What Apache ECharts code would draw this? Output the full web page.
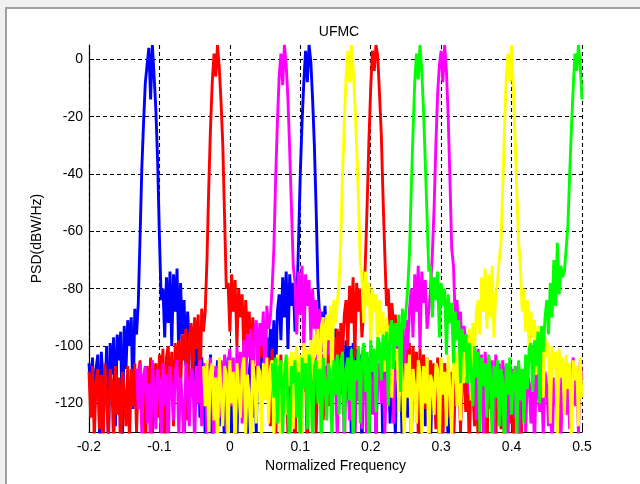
<!DOCTYPE html>
<html><head><meta charset="utf-8">
<script src="https://cdn.jsdelivr.net/npm/echarts@6/dist/echarts.min.js"></script>
<style>
html,body{margin:0;padding:0;background:#f0f0f0;width:640px;height:484px;overflow:hidden;}
#frame{position:absolute;left:5px;top:7px;width:635px;height:477px;background:#fff;border-top:2px solid #a0a0a0;border-left:2px solid #a0a0a0;box-sizing:border-box;}
#chart{position:absolute;left:0;top:0;width:640px;height:484px;}
</style></head><body>
<div id="frame"></div><div id="chart"></div>
<script>
// frequency grid of the PSD estimate
const freqStart = -0.2, freqStep = 0.0025;
const xTicks = [-0.2, -0.1, 0, 0.1, 0.2, 0.3, 0.4, 0.5];
const yTicks = [0, -20, -40, -60, -80, -100, -120];

// PSD values (dBW/Hz), each series begins at grid index *Start
const blueStart = 0;
const blue = [-106,-118,-104,-125,-108,-103,-131,-102,-112,-120,-100,-138,-99,-110,-97,-128,-96,-105,-95,-133,-93,-108,-91,-100,-90,-122,-87,-96,
-85,-62,-38,-22,-8,-2,4,-14,5,-6,-18,-36,-62,-84,
-80,-97,-76,-92,-74,-100,-75,-88,-73,-104,-78,
-96,-84,-107,-88,-99,-93,-118,-97,-110,
-101,-125,-104,-112,-131,-106,-119,-103,-136,-109,-115,-105,-128,-110,-107,-139,-113,-104,-121,-130,-108,-117,-134,-106,-112,-125,-104,-118,-140,-109,-103,-121,-107,-130,-102,-115,-99,
-100,-116,-97,-109,-94,-105,-91,-112,-88,
-82,-98,-76,-90,-74,-101,-75,-86,-78,-95,
-86,-64,-40,-22,-8,3,-8,5,-1,-14,-30,-52,-78,-90,
-88,-102,-86,-96,-90,-110,-92,-99,-94,-121,-95,-104,-97,-126,-98,-108,-100,-133,-99,-112,-101,-119,-103,-137,-102,-110,-104,-128,-103,-115,-105,-132,-106,-113,-104,-140,-107,-118,-105,-127,-108,-112,-131,-106,-120,-109,-138,-107,-116,-125,-108,-134,-110,-106,-122,-109,-139,-111,-107,-128,-109,-117,-136,-108,-113,-126,-110,-141,-108,-119,-124,-109,-135,-110,-115,-130,-112];

const redStart = 0;
const red = [-109,-125,-107,-133,-112,-108,-129,-110,-138,-106,-118,-131,-108,-113,-136,-107,-124,-111,-140,-109,-116,-128,-107,-134,
-108,-121,-106,-130,-110,-105,-127,-112,-139,-107,-119,-104,-132,-109,-106,
-125,-103,-112,-101,-135,-104,-100,-118,-102,-128,-99,-110,
-98,-115,-96,-105,-94,-126,-97,-92,-110,-90,-101,-89,-120,-87,-95,
-88,-70,-45,-24,-8,2,-6,5,-3,-15,-30,-55,-80,
-78,-95,-75,-88,-77,-100,-80,-90,-82,-104,-84,-96,
-88,-106,-90,-99,-93,-112,-95,-104,-98,
-102,-118,-104,-128,-101,-110,-135,-106,-115,-103,-124,-108,-105,-132,-111,-104,-119,-138,-107,-112,-127,-105,-116,-109,-140,-106,-113,-122,-104,-131,-108,-117,-103,-126,-110,-101,-121,
-99,-114,-97,-106,-94,-120,-92,-103,-89,
-84,-100,-79,-92,-76,-104,-78,-88,-80,-97,
-88,-70,-50,-28,-10,3,-4,5,1,-12,-26,-48,-68,-86,
-80,-97,-85,-93,-89,-108,-92,-100,-95,-118,-97,-106,-99,-125,-100,-110,-102,-131,-101,-114,-103,-122,-104,-136,-105,-112,-106,-129,-104,-117,-107,-134,-106,-113,-108,-125,-109,-140,-107,-119,-108,-130,-111,-110,-123,-109,-137,-108,-116,-128,-110,-133,-109,-112,-126,-111,-139,-108,-118,-124,-110,-135,-109,-115,-129,-112,-141,-110,-117,-127,-111,-136,-109,-120,-131,-112,-138];

const magentaStart = 27;
const magenta = [-108,-122,-106,-131,-110,-107,-127,-113,-139,-105,-117,-129,-108,-112,-134,-106,-121,-110,-137,-107,-115,-126,-109,-105,-132,-111,-119,-140,-106,-113,-128,-108,-110,-135,
-107,-120,-105,-128,-109,-106,-133,-112,-104,-118,-138,-107,-111,-125,-105,
-116,-103,-130,-106,-101,-121,-104,-135,-100,-112,-102,-127,
-98,-113,-96,-104,-94,-125,-95,-91,-109,-92,-100,-88,-118,-86,-94,
-90,-80,-66,-42,-22,-6,2,-9,5,-2,-14,-32,-52,-72,
-78,-96,-74,-89,-72,-102,-75,-86,-77,-98,-80,
-94,-84,-107,-87,-99,-90,-115,-94,-103,
-100,-121,-104,-111,-132,-105,-117,-102,-138,-108,-113,-126,-106,-104,-135,-110,-119,-107,-129,-103,-115,-140,-108,-112,-124,-105,-133,-109,-106,-120,-104,-131,-110,-101,-118,-99,-127,
-99,-112,-96,-104,-93,-118,-91,-101,-87,
-80,-97,-75,-88,-72,-101,-74,-85,-77,-94,
-88,-80,-68,-52,-30,-12,-2,3,-8,5,-4,-20,-42,-66,
-72,-90,-84,-96,-88,-105,-93,-99,-96,-117,-98,-107,-100,-126,-101,-111,-103,-131,-102,-114,-104,-122,-105,-136,-103,-109,-106,-128,-105,-115,-107,-133,-106,-112,-108,-125,-107,-139,-109,-118,-108,-130,-110,-113,-127,-109,-137,-108,-116,-123,-110,-132,-109,-114,-128,-108,-140,-111,-117,-126,-109,-134,-110,-113,-124,-108,-129,-111,-104,-121,-107,-131,-105,-112];

const yellowStart = 65;
const yellow = [-107,-121,-105,-130,-109,-106,-126,-111,-138,-104,-116,-128,-107,-110,-135,-105,-120,-109,-140,-106,-114,-125,-108,-104,-131,-110,-118,-136,-105,-112,-127,-107,-109,-134,
-106,-119,-104,-127,-108,-105,-132,-110,-103,-117,-137,-106,-109,-124,-104,
-114,-102,-129,-105,-100,-120,-103,-134,-99,-111,-101,-126,
-98,-112,-96,-103,-94,-121,-93,-90,-107,-89,-98,-86,-115,-84,-92,
-85,-78,-64,-40,-22,-6,3,-8,5,-3,-15,-30,-48,-70,
-76,-92,-74,-86,-78,-99,-80,-88,-82,-102,-84,
-96,-88,-109,-90,-100,-93,-118,-96,-105,
-101,-123,-104,-112,-133,-106,-118,-103,-137,-108,-114,-127,-105,-109,-131,-107,-120,-104,-139,-110,-113,-124,-106,-108,-135,-104,-117,-109,-128,-103,-115,-132,-106,-102,-121,-100,-126,
-100,-113,-97,-105,-94,-119,-92,-101,-88,
-84,-96,-76,-88,-73,-94,-75,-90,-72,-97,
-82,-78,-70,-64,-44,-24,-6,2,-8,5,-10,-28,-46,-64,
-72,-88,-80,-95,-84,-101,-88,-97,-91,-110,-93,-100,-95,-118,-97,-104,-99,-127,-100,-108,-102,-133,-101,-111,-104,-124,-103,-115,-106,-137,-105,-112,-107,-128,-104,-118];

const greenStart = 104;
const green = [-106,-118,-104,-127,-108,-105,-131,-110,-103,-122,-136,-107,-113,-105,-125,-109,-140,-104,-115,-106,-129,-103,-111,-134,-107,-105,-120,-108,-138,-104,-112,-126,-106,-110,
-133,-105,-117,-103,-124,-106,-102,-130,-108,-104,-119,-101,-135,-105,-112,
-100,-127,-103,-99,-116,-102,-138,-98,-109,-101,-123,-97,
-99,-112,-96,-105,-95,-121,-94,-91,-108,-92,-100,-89,-116,-87,-94,
-88,-80,-68,-46,-26,-8,2,-7,5,-4,-18,-36,-55,-74,
-72,-90,-76,-84,-74,-97,-78,-86,-80,-103,-82,
-92,-85,-106,-88,-98,-91,-113,-94,-102,
-96,-113,-99,-108,-121,-100,-111,-102,-130,-104,-114,-106,-125,-103,-109,-135,-107,-118,-105,-128,-108,-112,-139,-106,-117,-104,-124,-110,-107,-133,-105,-119,-108,-127,-103,-115,-101,
-99,-116,-98,-107,-95,-120,-93,-102,-90,
-84,-96,-78,-90,-70,-86,-64,-82,-72,-76,
-74,-66,-58,-40,-24,-10,2,-4,5,-2,-14];

function toPairs(start, vals) {
  return vals.map((v, k) => [Math.round((freqStart + (start + k) * freqStep) * 10000) / 10000, v]);
}

const seriesDefs = [
  {name: 'blue', color: '#0000ff', start: blueStart, vals: blue},
  {name: 'red', color: '#ff0000', start: redStart, vals: red},
  {name: 'magenta', color: '#ff00ff', start: magentaStart, vals: magenta},
  {name: 'yellow', color: '#ffff00', start: yellowStart, vals: yellow},
  {name: 'green', color: '#00ff00', start: greenStart, vals: green}
];

const chart = echarts.init(document.getElementById('chart'), null, {renderer: 'canvas'});
const font = 'Liberation Sans, Arial, sans-serif';
chart.setOption({
  animation: false,
  backgroundColor: 'transparent',
  title: {
    text: 'UFMC', left: 334, top: 20, textAlign: 'center',
    textStyle: {fontFamily: font, fontSize: 14, fontWeight: 'normal', color: '#000'}
  },
  grid: {left: 89, right: 58, top: 45, bottom: 52, containLabel: false},
  xAxis: {
    type: 'value', min: -0.2, max: 0.5, interval: 0.1,
    name: 'Normalized Frequency', nameLocation: 'middle', nameGap: 26,
    nameTextStyle: {fontFamily: font, fontSize: 14, color: '#000'},
    axisLine: {show: true, onZero: false, lineStyle: {color: '#000', width: 1.2}},
    axisTick: {show: true, inside: true, length: 5, lineStyle: {color: '#000'}},
    axisLabel: {fontFamily: font, fontSize: 14, color: '#000', margin: 8,
      formatter: v => String(Math.round(v * 10) / 10)},
    splitLine: {show: true, lineStyle: {color: '#000', type: [4, 3], width: 1.1}}
  },
  yAxis: {
    type: 'value', min: -130, max: 5,
    name: 'PSD(dBW/Hz)', nameLocation: 'middle', nameGap: 39,
    nameTextStyle: {fontFamily: font, fontSize: 14, color: '#000'},
    axisLine: {show: true, onZero: false, lineStyle: {color: '#000', width: 1.2}},
    axisTick: {show: true, inside: true, length: 5, customValues: yTicks, lineStyle: {color: '#000'}},
    axisLabel: {fontFamily: font, fontSize: 14, color: '#000', margin: 6, customValues: yTicks},
    splitLine: {show: true, lineStyle: {color: '#000', type: [4, 3], width: 1.1}}
  },
  series: seriesDefs.map(s => ({
    name: s.name, type: 'line', data: toPairs(s.start, s.vals),
    showSymbol: false, symbol: 'none', clip: true, silent: true,
    lineStyle: {color: s.color, width: 2.9, join: 'miter', miterLimit: 2}, itemStyle: {color: s.color}
  }))
});
</script>
</body></html>
